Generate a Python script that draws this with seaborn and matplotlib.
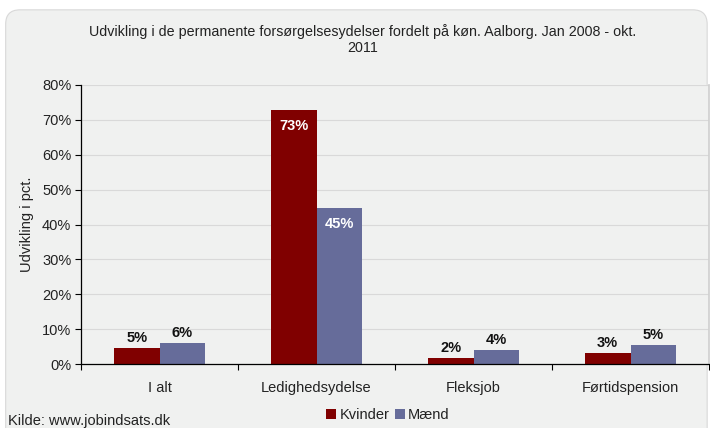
import numpy as np
import pandas as pd
import matplotlib
matplotlib.use("Agg")
import matplotlib.pyplot as plt
import seaborn as sns
from matplotlib.patches import FancyBboxPatch
from matplotlib.ticker import PercentFormatter, FixedLocator

categories = ["I alt", "Ledighedsydelse", "Fleksjob", "Førtidspension"]
kvinder = [4.6, 72.7, 1.6, 3.2]
maend = [6.0, 44.6, 4.1, 5.4]
series_names = ["Kvinder", "Mænd"]
colors = ["#800000", "#666C9A"]
title = "Udvikling i de permanente forsørgelsesydelser fordelt på køn. Aalborg. Jan 2008 - okt.\n2011"
ylabel = "Udvikling i pct."
source = "Kilde: www.jobindsats.dk"

df = pd.DataFrame({
    "Kategori": categories * 2,
    "Serie": [series_names[0]] * 4 + [series_names[1]] * 4,
    "Værdi": kvinder + maend,
})

sns.set_theme(style="white")
plt.rcParams["font.family"] = ["Liberation Sans", "DejaVu Sans"]

bg = "#F0F1F0"
fig = plt.figure(figsize=(7.1, 4.28), dpi=100)
fig.patch.set_facecolor("white")
frame = FancyBboxPatch((0.008, -0.05), 0.988, 1.027, boxstyle="round,pad=0,rounding_size=0.02",
                       transform=fig.transFigure, facecolor=bg, edgecolor="#D8D8D8", lw=0.8,
                       mutation_aspect=710/428, zorder=-10)
fig.patches.append(frame)

ax = fig.add_axes([81/710, 1 - 364/428, (709 - 81)/710, (364 - 85)/428])
ax.set_zorder(2)
ax.set_facecolor(bg)
sns.barplot(data=df, x="Kategori", y="Værdi", hue="Serie", palette=colors,
            width=0.58, saturation=1, ax=ax, legend=True, edgecolor="none")

ax.set_ylim(0, 80)
ax.set_xlim(-0.5, 3.5)
ax.set_yticks(np.arange(0, 81, 10))
ax.yaxis.set_major_formatter(PercentFormatter(decimals=0))
ax.yaxis.grid(True, color="#D9D9D9", lw=0.8)
ax.set_axisbelow(True)
ax.tick_params(axis="y", left=True, length=4, width=0.8, color="black", labelsize=10.5, pad=3, labelcolor="#222222")
ax.tick_params(axis="x", which="major", length=0, labelsize=10.5, pad=12, labelcolor="#222222")
ax.xaxis.set_minor_locator(FixedLocator([-0.5, 0.5, 1.5, 2.5, 3.5]))
ax.tick_params(axis="x", which="minor", bottom=True, length=4, width=0.8, color="black")
ax.set_xlabel("")
ax.set_ylabel(ylabel, fontsize=10.5, color="#222222", labelpad=6)

for side in ["left", "bottom"]:
    ax.spines[side].set_color("black")
    ax.spines[side].set_linewidth(0.9)
ax.spines["top"].set_visible(False)
ax.spines["right"].set_visible(True)
ax.spines["right"].set_color("#D0D0D0")

for cont in ax.containers:
    for p in cont:
        h = p.get_height()
        xc = p.get_x() + p.get_width() / 2
        lab = f"{h:.0f}%"
        if h > 30:
            ax.annotate(lab, (xc, h), xytext=(0, -16), textcoords="offset pixels",
                        ha="center", va="center", fontsize=10.5, fontweight="bold", color="white")
        else:
            ax.annotate(lab, (xc, h), xytext=(0, 10), textcoords="offset pixels",
                        ha="center", va="center", fontsize=10.5, fontweight="bold", color="#111111")

handles, labels = ax.get_legend_handles_labels()
ax.get_legend().remove()
fig.legend(handles, labels, loc="center", bbox_to_anchor=(388/710, 1 - 415/428), ncol=2,
           frameon=False, fontsize=10.5, handlelength=0.7, handleheight=0.7, handletextpad=0.2,
           columnspacing=0.4, labelcolor="#222222")

fig.text(0.5 * (90 + 635) / 710, 1 - 39.5/428, title, ha="center", va="center", fontsize=10.3,
         color="#222222", linespacing=1.2)
fig.text(8/710, 1 - 421.5/428, source, ha="left", va="center", fontsize=10.5, color="#222222")

fig.savefig("out.png", dpi=100, facecolor="white")
